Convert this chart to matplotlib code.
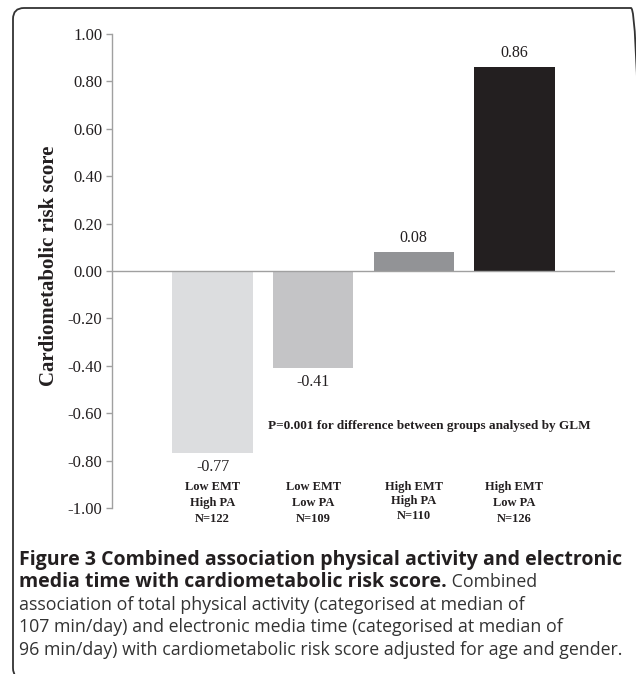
import matplotlib
matplotlib.use("Agg")
import matplotlib.pyplot as plt
from matplotlib.patches import FancyBboxPatch

# data
groups = ["Low EMT\nHigh PA\nN=122", "Low EMT\nLow PA\nN=109",
          "High EMT\nHigh PA\nN=110", "High EMT\nLow PA\nN=126"]
scores = [-0.77, -0.41, 0.08, 0.86]
bar_colors = ["#dcdddf", "#c4c4c6", "#929396", "#231f20"]
yticks = [-1.0, -0.8, -0.6, -0.4, -0.2, 0.0, 0.2, 0.4, 0.6, 0.8, 1.0]
ylabel = "Cardiometabolic risk score"
pnote = "P=0.001 for difference between groups analysed by GLM"

cap_bold1 = "Figure 3 Combined association physical activity and electronic"
cap_bold2 = "media time with cardiometabolic risk score."
cap_rest = [" Combined",
            "association of total physical activity (categorised at median of",
            "107 min/day) and electronic media time (categorised at median of",
            "96 min/day) with cardiometabolic risk score adjusted for age and gender."]

plt.rcParams["axes.unicode_minus"] = False
serif = ["Liberation Serif", "DejaVu Serif"]
sans = ["Open Sans", "DejaVu Sans"]
ink = "#231f20"
W, H = 636, 674

fig = plt.figure(figsize=(W / 100, H / 100), dpi=100)

# rounded frame, right and bottom edges run off the picture
frame = FancyBboxPatch((0.13, -0.05), 6.29, 6.71, boxstyle="round,pad=0,rounding_size=0.11",
                       transform=fig.dpi_scale_trans, fill=False, ec="#333333", lw=1.3)
fig.add_artist(frame)

# axes placed in pixels
left, right, top, bottom = 112, 615, 34, 508
ax = fig.add_axes([left / W, (H - bottom) / H, (right - left) / W, (bottom - top) / H])
xpos = [1, 2, 3, 4]
ax.bar(xpos, scores, width=0.8, color=bar_colors, zorder=2)
ax.axhline(0, color="#a0a0a0", lw=1.0, zorder=3)
ax.set_xlim(0, 5)
ax.set_ylim(-1.0, 1.0)
ax.set_yticks(yticks)
ax.set_yticklabels(["%.2f" % v for v in yticks], fontfamily=serif, fontsize=12, color=ink)
ax.set_xticks([])
for s in ["top", "right", "bottom"]:
    ax.spines[s].set_visible(False)
ax.spines["left"].set_color("#a0a0a0")
ax.spines["left"].set_linewidth(1.0)
ax.tick_params(axis="y", length=4, width=1.0, color="#a0a0a0", pad=3)

for x, v in zip(xpos, scores):
    off = 14 if v > 0 else -14
    ax.annotate("%.2f" % v, (x, v), xytext=(0, off), textcoords="offset pixels",
                ha="center", va="center", fontfamily=serif, fontsize=11.5, color=ink)

for i, (x, g) in enumerate(zip(xpos, groups)):
    ax.text(x, -0.887, g, ha="center", va="top", fontfamily=serif, fontweight="bold",
            fontsize=9, color=ink, linespacing=1.25 if i == 2 else 1.45)

ax.text(3.15, -0.654, pnote, ha="center", va="center", fontfamily=serif,
        fontweight="bold", fontsize=9.5, color=ink)

fig.text(49 / W, 1 - 266 / H, ylabel, rotation=90, ha="center", va="center",
         fontfamily=serif, fontweight="bold", fontsize=15, color=ink)

# caption
cx = 19 / W
line_y = [560, 582, 605, 627, 650]
fs_b, fs_r = 14, 12.8
fig.text(cx, 1 - line_y[0] / H, cap_bold1, ha="left", va="center", fontfamily=sans,
         fontweight="bold", fontsize=fs_b, color=ink)
b2 = fig.text(cx, 1 - line_y[1] / H, cap_bold2, ha="left", va="center", fontfamily=sans,
              fontweight="bold", fontsize=fs_b, color=ink)
ax.annotate(cap_rest[0], xy=(1, 0.5), xycoords=b2, ha="left", va="center",
            fontfamily=sans, fontsize=fs_r, color="#333333", annotation_clip=False)
for k, t in enumerate(cap_rest[1:]):
    fig.text(cx, 1 - line_y[k + 2] / H, t, ha="left", va="center", fontfamily=sans,
             fontsize=fs_r, color="#333333")

fig.savefig("out.png", dpi=100)
